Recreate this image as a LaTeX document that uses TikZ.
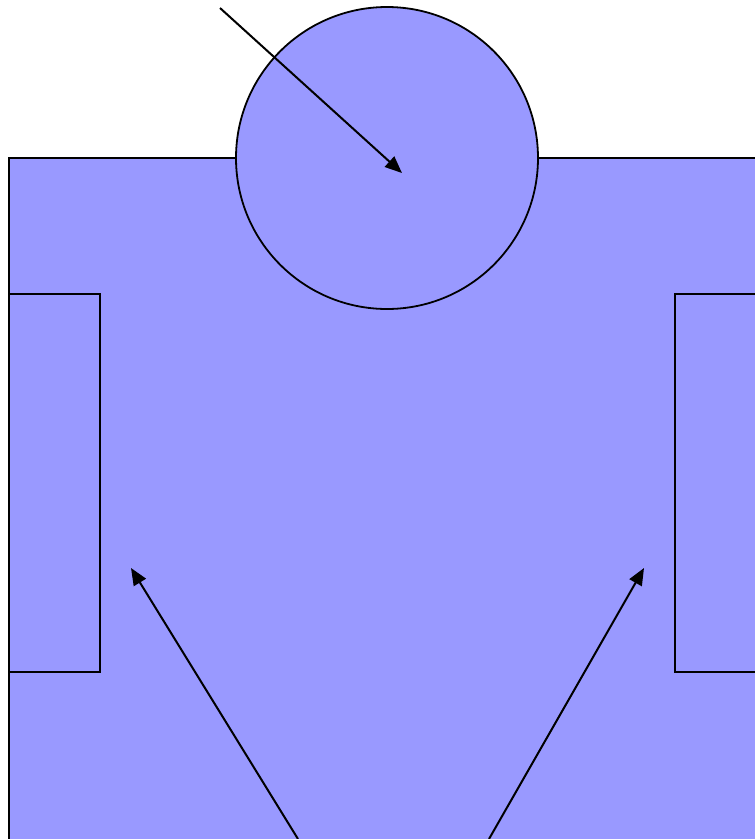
\documentclass[tikz,border=0pt]{standalone}
\usetikzlibrary{arrows.meta}
\definecolor{fillblue}{HTML}{9999FF}
\tikzset{
  partbox/.style={draw=black, fill=fillblue, line width=1.8pt, inner sep=0pt, outer sep=0pt},
  conn/.style={draw=black, line width=2pt, -{Triangle[length=17pt,width=14pt]}}
}
\begin{document}
\begin{tikzpicture}[x=1pt,y=-1pt]
\clip (0,0) rectangle (755,839);
\useasboundingbox (0,0) rectangle (755,839);
\node[partbox, rectangle, anchor=north west, minimum width=760pt, minimum height=682pt] (body) at (9,158) {};
\node[partbox, rectangle, anchor=north west, minimum width=91pt, minimum height=378pt] (lbox) at (9,294) {};
\node[partbox, rectangle, anchor=north west, minimum width=100pt, minimum height=378pt] (rbox) at (675,294) {};
\node[partbox, circle, minimum size=302pt] (head) at (387,158) {};
\coordinate (s1) at (220,8);
\coordinate (e1) at (402,173);
\coordinate (s2) at (298,839);
\coordinate (e2) at (131,568);
\coordinate (s3) at (489,839);
\coordinate (e3) at (644,568);
\draw[conn] (s1) -- (e1);
\draw[conn] (s2) -- (e2);
\draw[conn] (s3) -- (e3);
\end{tikzpicture}
\end{document}
